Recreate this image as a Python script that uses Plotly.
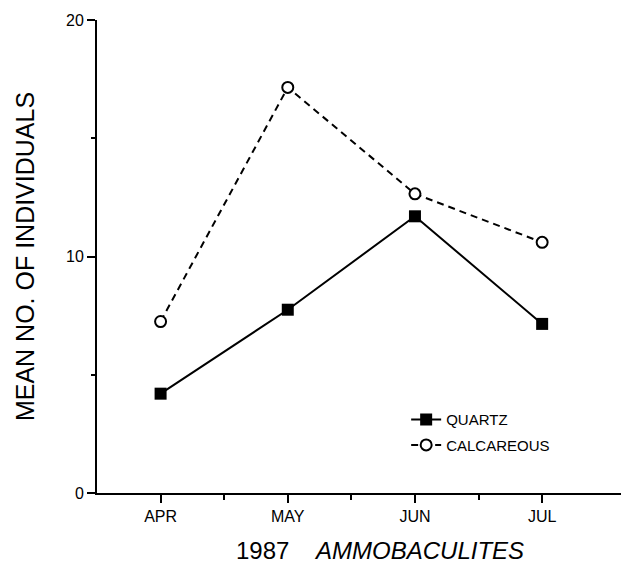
import plotly.graph_objects as go

months = ["APR", "MAY", "JUN", "JUL"]
month_pos = [0, 1, 2, 3]
quartz = [4.2, 7.75, 11.7, 7.15]
calcareous = [7.25, 17.15, 12.65, 10.6]
y_ticks = [0, 10, 20]

FONT = "Liberation Sans, Arial, Helvetica, sans-serif"

fig = go.Figure()
fig.add_trace(go.Scatter(
    x=month_pos, y=quartz, name="QUARTZ", mode="lines+markers",
    line=dict(color="black", width=2),
    marker=dict(symbol="square", size=12, color="black"),
    legendgroup="q",
))
fig.add_trace(go.Scatter(
    x=month_pos, y=calcareous, name="CALCAREOUS", mode="lines+markers",
    line=dict(color="black", width=2, dash="7px,5px"),
    marker=dict(symbol="circle", size=11, color="white",
                line=dict(color="black", width=2)),
    legendgroup="c",
))

fig.update_layout(
    width=621, height=567,
    margin=dict(l=97, r=0, t=20, b=74),
    paper_bgcolor="white", plot_bgcolor="white",
    font=dict(family=FONT, color="black", size=16),
    showlegend=True,
    legend=dict(x=0.59, y=0.19, xanchor="left", yanchor="top",
                font=dict(size=15, family=FONT), tracegroupgap=3,
                bgcolor="rgba(0,0,0,0)", itemwidth=30),
    xaxis=dict(
        range=[-0.5, 3.62], tickvals=month_pos, ticktext=months,
        showgrid=False, zeroline=False, showline=True, linecolor="black",
        linewidth=2, ticks="outside", ticklen=8, tickwidth=2, tickcolor="black",
        tickfont=dict(size=16),
        minor=dict(tickvals=[0.5, 1.5, 2.5], ticks="outside", ticklen=5,
                   tickwidth=2, tickcolor="black", showgrid=False),
    ),
    yaxis=dict(
        range=[0, 20], tickvals=y_ticks,
        showgrid=False, zeroline=False, showline=True, linecolor="black",
        linewidth=2, ticks="outside", ticklen=8, tickwidth=2, tickcolor="black",
        tickfont=dict(size=16),
        minor=dict(tickvals=[5, 15], ticks="outside", ticklen=4,
                   tickwidth=2, tickcolor="black", showgrid=False),
        title=dict(text="MEAN NO. OF INDIVIDUALS", font=dict(size=25),
                   standoff=24),
    ),
)

fig.add_annotation(
    xref="paper", yref="paper", x=0.54, y=-0.1226, xanchor="center",
    yanchor="middle", showarrow=False,
    text="1987&nbsp;&nbsp;&nbsp;&nbsp;<i>AMMOBACULITES</i>",
    font=dict(size=24, family=FONT),
)

fig.write_html("out.html")
